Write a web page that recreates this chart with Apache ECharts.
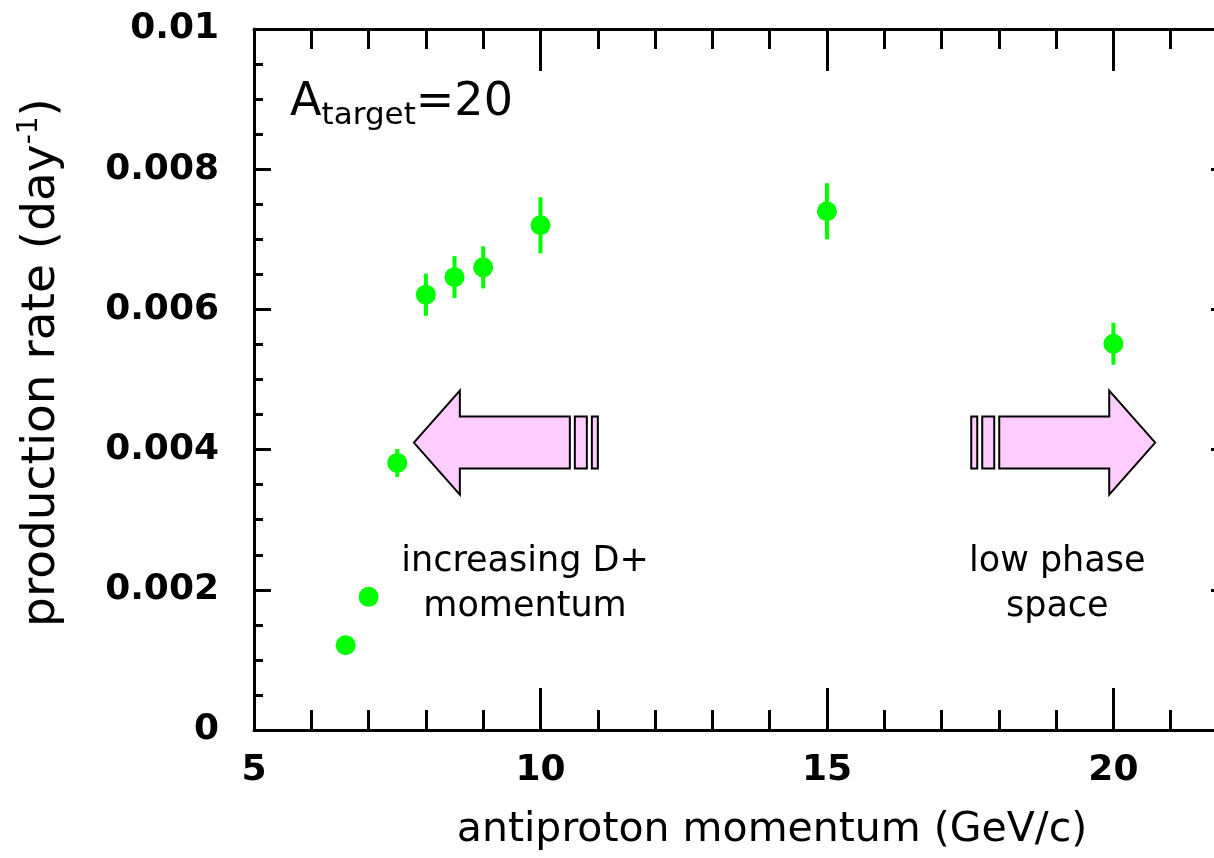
<!DOCTYPE html>
<html>
<head>
<meta charset="utf-8">
<script src="https://cdn.jsdelivr.net/npm/echarts@6/dist/echarts.min.js"></script>
<style>
  html, body { margin: 0; padding: 0; background: #fff; overflow: hidden; }
  /* the frame's right edge runs just past the visible window */
  #chart { width: 1228px; height: 858px; }
</style>
</head>
<body>
<div id="chart"></div>
<script>
// Antiproton beam momentum (GeV/c)
const momentum = [6.6, 7.0, 7.5, 8.0, 8.5, 9.0, 10, 15, 20];
// Production rate (per day)
const rate = [0.00121, 0.0019, 0.00381, 0.00621, 0.00646, 0.0066, 0.0072, 0.0074, 0.00551];
// Statistical uncertainty on the rate (per day)
const rateError = [0, 0, 0.0002, 0.0003, 0.0003, 0.0003, 0.0004, 0.0004, 0.0003];

const xTickValues = [5, 10, 15, 20];
const xTickLabels = ['5', '10', '15', '20'];
const yTickValues = [0, 0.002, 0.004, 0.006, 0.008, 0.01];
const yTickLabels = ['0', '0.002', '0.004', '0.006', '0.008', '0.01'];

// Annotation anchors, in axis units
const arrowTips = [[7.79, 0.0041, -1], [20.73, 0.0041, 1]];
const noteAnchors = [[9.73, 0.00208], [19.02, 0.00208], [5.63, 0.00894]];
const noteTexts = ['increasing D+\nmomentum', 'low phase\nspace', '{a|A}{s|target}{a|=20}'];

const FONT = 'DejaVu Sans';
const GREEN = '#00ff00';

const chart = echarts.init(document.getElementById('chart'), null, { renderer: 'canvas' });

function xLabel(v) {
  const i = xTickValues.findIndex(t => Math.abs(t - v) < 1e-9);
  return i >= 0 ? xTickLabels[i] : '';
}
function yLabel(v) {
  const i = yTickValues.findIndex(t => Math.abs(t - v) < 1e-9);
  return i >= 0 ? yTickLabels[i] : '';
}

const frameLine = { show: true, onZero: false, lineStyle: { color: '#000', width: 3 } };
const noLine = { show: false, onZero: false };
const tickFont = { color: '#000', fontFamily: FONT, fontSize: 36, fontWeight: 'bold' };

function xAxisDef(position, major, withLabels) {
  return {
    type: 'value', position, min: 5, max: 22, interval: major ? 5 : 1,
    axisLine: major ? frameLine : noLine,
    axisTick: { show: true, inside: true, length: major ? 42 : 20, lineStyle: { color: '#000', width: 3 } },
    axisLabel: withLabels ? Object.assign({
      show: true, formatter: xLabel, margin: 23, showMaxLabel: false
    }, tickFont) : { show: false },
    splitLine: { show: false }
  };
}

function yAxisDef(position, withLabels) {
  return {
    type: 'value', position, min: 0, max: 0.01, interval: 0.002,
    axisLine: frameLine,
    axisTick: { show: true, inside: true, length: 17, lineStyle: { color: '#000', width: 3 } },
    minorTick: { show: true, splitNumber: 4, length: 9, lineStyle: { color: '#000', width: 3 } },
    axisLabel: withLabels ? Object.assign({
      show: true, formatter: yLabel, margin: 35
    }, tickFont) : { show: false },
    splitLine: { show: false }
  };
}

const xMain = xAxisDef('bottom', true, true);
xMain.name = 'antiproton momentum (GeV/c)';
xMain.nameLocation = 'middle';
xMain.nameGap = 80;
xMain.nameTextStyle = { color: '#000', fontFamily: FONT, fontSize: 41, padding: [0, 0, 0, 62] };

const yMain = yAxisDef('left', true);
yMain.name = 'production rate (day{sup|-1})';
yMain.nameLocation = 'middle';
yMain.nameGap = 186;
yMain.nameTextStyle = {
  color: '#000', fontFamily: FONT, fontSize: 47, lineHeight: 52, padding: [0, 0, 0, 34],
  rich: { sup: { color: '#000', fontFamily: FONT, fontSize: 28, lineHeight: 30, verticalAlign: 'top' } }
};

function renderErrorBar(params, api) {
  const x = api.value(0), y = api.value(1), e = api.value(2);
  if (!e) return null;
  const lo = api.coord([x, y - e]);
  const hi = api.coord([x, y + e]);
  return {
    type: 'line',
    shape: { x1: lo[0], y1: lo[1], x2: hi[0], y2: hi[1] },
    style: { stroke: GREEN, lineWidth: 4 }
  };
}

// Block arrow with two trailing bars; dir = -1 points left, +1 points right
function renderArrow(params, api) {
  const tip = api.coord([api.value(0), api.value(1)]);
  const dir = api.value(2);
  const s = -dir;
  const X = d => tip[0] + s * d;
  const Y = d => tip[1] + d;
  const style = { fill: '#ffccff', stroke: '#000', lineWidth: 2 };
  const bar = (a, b) => ({
    type: 'polygon',
    shape: { points: [[X(a), Y(-26)], [X(b), Y(-26)], [X(b), Y(26)], [X(a), Y(26)]] },
    style
  });
  return {
    type: 'group',
    children: [
      {
        type: 'polygon',
        shape: {
          points: [
            [X(0), Y(0)], [X(46), Y(-52)], [X(46), Y(-26)], [X(156), Y(-26)],
            [X(156), Y(26)], [X(46), Y(26)], [X(46), Y(52)]
          ]
        },
        style
      },
      bar(161, 173),
      bar(178, 184)
    ]
  };
}

function renderNote(params, api) {
  const i = params.dataIndex;
  const p = api.coord([api.value(0), api.value(1)]);
  const isTitle = i === 2;
  return {
    type: 'text',
    x: p[0], y: p[1],
    style: isTitle ? {
      text: noteTexts[i], align: 'left', verticalAlign: 'middle', fill: '#000',
      rich: {
        a: { fontFamily: FONT, fontSize: 46, lineHeight: 56, fill: '#000' },
        s: { fontFamily: FONT, fontSize: 31, lineHeight: 31, verticalAlign: 'bottom', fill: '#000' }
      }
    } : {
      text: noteTexts[i], align: 'center', verticalAlign: 'middle', fill: '#000',
      fontFamily: FONT, fontSize: 35, lineHeight: 45
    }
  };
}

chart.setOption({
  animation: false,
  backgroundColor: '#fff',
  grid: { left: 254, top: 29, right: 0, bottom: 128, containLabel: false },
  xAxis: [
    xMain,
    xAxisDef('bottom', false, false),
    xAxisDef('top', true, false),
    xAxisDef('top', false, false)
  ],
  yAxis: [yMain, yAxisDef('right', false)],
  series: [
    {
      type: 'custom', name: 'arrows', coordinateSystem: 'cartesian2d',
      renderItem: renderArrow, data: arrowTips, clip: false, silent: true, z: 1
    },
    {
      type: 'custom', name: 'notes', coordinateSystem: 'cartesian2d',
      renderItem: renderNote, data: noteAnchors, clip: false, silent: true, z: 1
    },
    {
      type: 'custom', name: 'errors', coordinateSystem: 'cartesian2d',
      renderItem: renderErrorBar,
      data: momentum.map((m, i) => [m, rate[i], rateError[i]]),
      silent: true, z: 2
    },
    {
      type: 'scatter', name: 'rate',
      data: momentum.map((m, i) => [m, rate[i]]),
      symbol: 'circle', symbolSize: 20,
      itemStyle: { color: GREEN, opacity: 1 },
      z: 3
    }
  ]
});
</script>
</body>
</html>
